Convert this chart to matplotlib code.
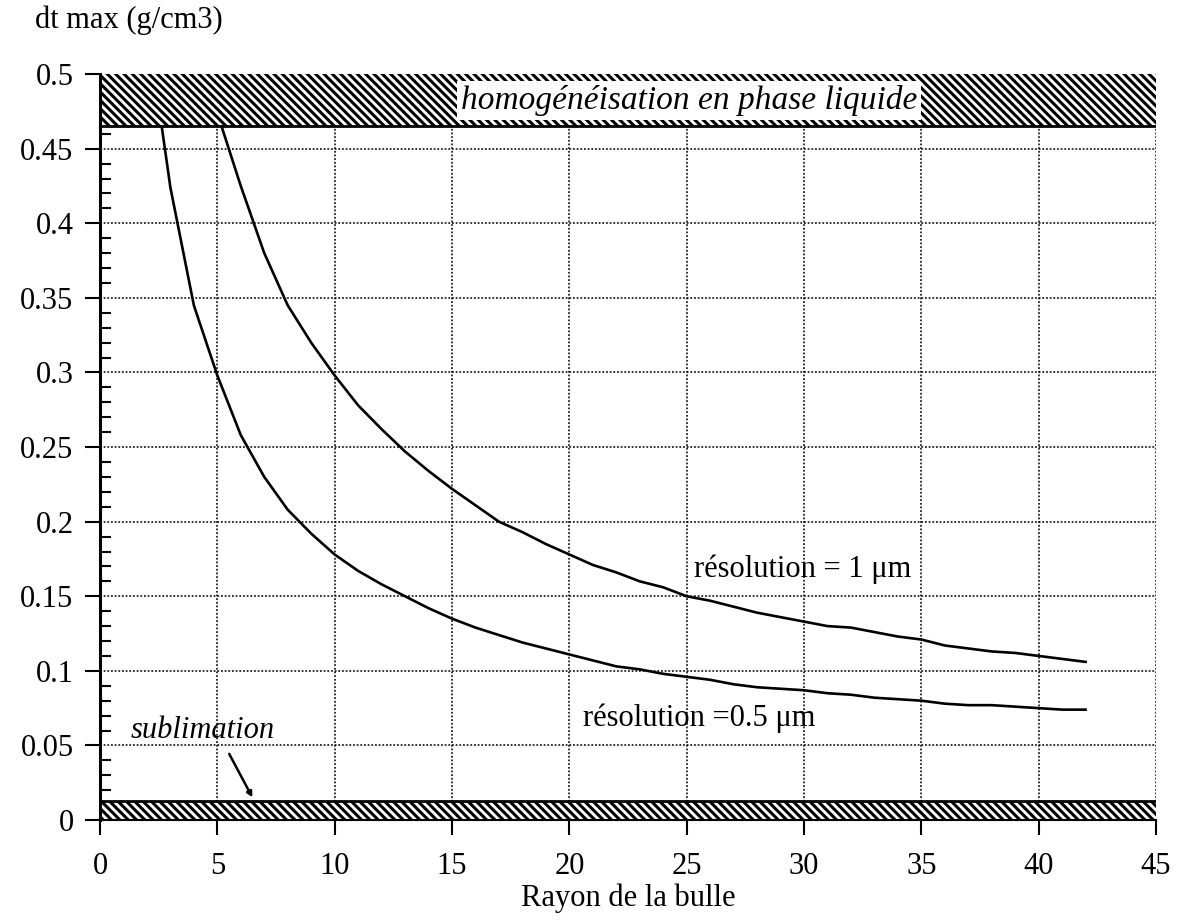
import numpy as np
import matplotlib
matplotlib.use("Agg")
import matplotlib.pyplot as plt

# données
r_05 = [2.63, 3, 4, 5, 6, 7, 8, 9, 10, 11, 12, 13, 14, 15, 16, 17, 18, 19, 20, 21,
        22, 23, 24, 25, 26, 27, 28, 29, 30, 31, 32, 33, 34, 35, 36, 37, 38, 39, 40, 41, 42]
dt_05 = [0.465, 0.424, 0.345, 0.298, 0.258, 0.230, 0.208, 0.192, 0.178, 0.167, 0.158,
         0.150, 0.142, 0.135, 0.129, 0.124, 0.119, 0.115, 0.111, 0.107, 0.103, 0.101,
         0.098, 0.096, 0.094, 0.091, 0.089, 0.088, 0.087, 0.085, 0.084, 0.082, 0.081,
         0.080, 0.078, 0.077, 0.077, 0.076, 0.075, 0.074, 0.074]

r_1 = [5.18, 6, 7, 8, 9, 10, 11, 12, 13, 14, 15, 16, 17, 18, 19, 20, 21, 22, 23, 24,
       25, 26, 27, 28, 29, 30, 31, 32, 33, 34, 35, 36, 37, 38, 39, 40, 41, 42]
dt_1 = [0.465, 0.425, 0.380, 0.345, 0.320, 0.298, 0.278, 0.262, 0.247, 0.234, 0.222,
        0.211, 0.200, 0.193, 0.185, 0.178, 0.171, 0.166, 0.160, 0.156, 0.150, 0.147,
        0.143, 0.139, 0.136, 0.133, 0.130, 0.129, 0.126, 0.123, 0.121, 0.117, 0.115,
        0.113, 0.112, 0.110, 0.108, 0.106]

x_ticks = [0, 5, 10, 15, 20, 25, 30, 35, 40, 45]
y_ticks = [0, 0.05, 0.1, 0.15, 0.2, 0.25, 0.3, 0.35, 0.4, 0.45, 0.5]
y_labels = ["0", "0.05", "0.1", "0.15", "0.2", "0.25", "0.3", "0.35", "0.4", "0.45", "0.5"]

band_haut = (0.465, 0.5)   # homogénéisation en phase liquide
band_bas = (0.0, 0.013)    # sublimation

plt.rcParams['font.family'] = ['Liberation Serif', 'DejaVu Serif']
plt.rcParams['hatch.linewidth'] = 2.2

fig = plt.figure(figsize=(11.82, 9.22), dpi=100)
ax = fig.add_axes([0.0846, 0.1106, 0.8934, 0.809])
ax.set_xlim(0, 45)
ax.set_ylim(0, 0.5)

# zones hachurées
ax.axhspan(*band_haut, facecolor='white', edgecolor='black', hatch='\\\\\\\\', linewidth=0, zorder=1)
ax.axhspan(*band_bas, facecolor='white', edgecolor='black', hatch='\\\\\\\\', linewidth=0, zorder=1)
ax.axhline(band_haut[0], color='black', lw=2, zorder=2)
ax.axhline(band_bas[1], color='black', lw=2, zorder=2)

# courbes
ax.plot(r_1, dt_1, color='black', lw=1.9, zorder=3)
ax.plot(r_05, dt_05, color='black', lw=1.9, zorder=3)

# grille pointillée
ax.set_axisbelow(True)
ax.grid(True, linestyle=(0, (1.2, 1.2)), color='black', lw=1.1)

ax.set_xticks(x_ticks)
ax.set_xticklabels([str(v) for v in x_ticks])
ax.set_yticks(y_ticks)
ax.set_yticklabels(y_labels)
ax.set_yticks(np.arange(0, 0.5, 0.01), minor=True)
ax.tick_params(axis='both', which='major', direction='out', length=11, width=1.5,
               labelsize=22, pad=8)
ax.tick_params(axis='x', which='major', pad=12)
ax.tick_params(axis='y', which='minor', direction='in', length=8, width=1.5)

for s in ['top', 'right']:
    ax.spines[s].set_visible(False)
ax.spines['left'].set_linewidth(2.2)
ax.spines['bottom'].set_linewidth(1.5)

# textes
ax.text(25.1, 0.4825, "homogénéisation en phase liquide", style='italic', fontsize=24,
        ha='center', va='center', zorder=4,
        bbox=dict(facecolor='white', edgecolor='none', pad=3))
ax.text(1.3, 0.055, "sublimation", style='italic', fontsize=22, ha='left', va='baseline')
ax.annotate("", xy=(6.55, 0.0135), xytext=(5.45, 0.046),
            arrowprops=dict(arrowstyle='-|>', color='black', lw=1.8, mutation_scale=8))
ax.text(25.3, 0.168, "résolution = 1 μm", fontsize=22, ha='left', va='center')
ax.text(20.6, 0.068, "résolution =0.5 μm", fontsize=22, ha='left', va='center')

ax.set_xlabel("Rayon de la bulle", fontsize=22, labelpad=2)
fig.text(0.03, 0.978, "dt max (g/cm3)", fontsize=22, ha='left', va='center')

fig.savefig("out.png", dpi=100)
